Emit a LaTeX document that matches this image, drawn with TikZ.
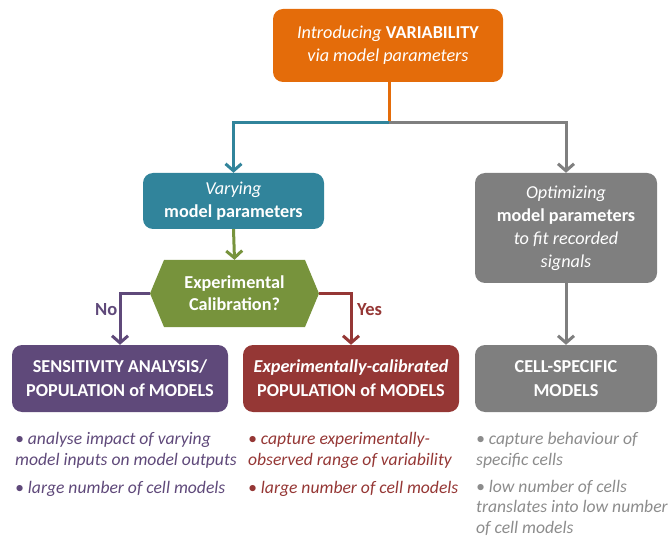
\documentclass[tikz,border=0pt]{standalone}
\usepackage{fontspec}
\setmainfont{Carlito}
\usetikzlibrary{arrows.meta}
\definecolor{cOrange}{HTML}{E46C0A}
\definecolor{cTeal}{HTML}{31849B}
\definecolor{cGreen}{HTML}{77933C}
\definecolor{cPurple}{HTML}{5F497A}
\definecolor{cRed}{HTML}{953735}
\definecolor{cGrey}{HTML}{7F7F7F}
\definecolor{cGreyText}{HTML}{8C8C8C}
\tikzset{
  box/.style={rounded corners=10pt, text=white, align=center, inner sep=0pt,
    font=\fontsize{18.2}{23}\selectfont},
  conn/.style={line width=3pt, -{Straight Barb[length=7pt,width=16pt,line width=3pt]}},
  plain/.style={line width=3pt},
  bullets/.style={anchor=base west, align=left, inner sep=0pt,
    font=\fontsize{17.6}{20.5}\selectfont\itshape},
  lbl/.style={font=\fontsize{18.5}{20}\selectfont\bfseries, inner sep=0pt, anchor=base west},
}
\begin{document}
\begin{tikzpicture}[x=1pt,y=-1pt]
\useasboundingbox (0,0) rectangle (669,545);
% boxes
\node[box, fill=cOrange, minimum width=230pt, minimum height=73pt] (top) at (388,45.5)
  {\textit{Introducing} \textbf{VARIABILITY}\\\textit{via model parameters}};
\node[box, fill=cTeal, minimum width=181pt, minimum height=56pt] (vary) at (233.5,201)
  {\textit{Varying}\\\textbf{model parameters}};
\node[box, fill=cGrey, minimum width=182pt, minimum height=110pt] (opt) at (566,228)
  {\textit{Optimizing}\\\textbf{model parameters}\\\textit{to fit recorded}\\\textit{signals}};
\fill[cGreen] (150,293.5) -- (164,260) -- (305,260) -- (319,293.5) -- (305,327) -- (164,327) -- cycle;
\node[text=white, align=center, inner sep=0pt, minimum width=169pt, minimum height=67pt,
  font=\fontsize{18.2}{22}\selectfont\bfseries] (calib) at (234.5,293.5) {Experimental\\Calibration?};
\node[box, fill=cPurple, minimum width=216pt, minimum height=67pt, font=\fontsize{18.2}{24}\selectfont] (sens) at (120,378.5)
  {\textbf{SENSITIVITY ANALYSIS/}\\\textbf{POPULATION of MODELS}};
\node[box, fill=cRed, minimum width=216pt, minimum height=67pt, font=\fontsize{18.2}{24}\selectfont] (expc) at (351,378.5)
  {\textbf{\textit{Experimentally-calibrated}}\\\textbf{POPULATION of MODELS}};
\node[box, fill=cGrey, minimum width=182pt, minimum height=67pt, font=\fontsize{18.2}{24}\selectfont] (cell) at (566,378.5)
  {\textbf{CELL-SPECIFIC}\\\textbf{MODELS}};
% connectors
\coordinate (split) at (389,123);
\draw[plain, cOrange] (top.south -| split) -- (split);
\draw[conn, cTeal] (split) -| (vary.north);
\draw[conn, cGrey] (split) -| (opt.north);
\draw[conn, cGreen] (vary.south) -- (calib.north);
\draw[conn, cPurple] (calib.west) -| (sens.north);
\draw[conn, cRed] (calib.east) -| (expc.north);
\draw[conn, cGrey] (opt.south) -- (cell.north);
\node[lbl, text=cPurple] (no) at (95,316) {No};
\node[lbl, text=cRed] (yes) at (357,316) {Yes};
% bullets (base anchor = baseline of last line)
\node[bullets, text=cPurple] (p1) at (15,465) {• analyse impact of varying\\model inputs on model outputs};
\node[bullets, text=cPurple] (p2) at (15,493) {• large number of cell models};
\node[bullets, text=cRed] (r1) at (248,465) {• capture experimentally-\\observed range of variability};
\node[bullets, text=cRed] (r2) at (248,493) {• large number of cell models};
\node[bullets, text=cGreyText] (g1) at (476,465) {• capture behaviour of\\specific cells};
\node[bullets, text=cGreyText] (g2) at (476,533) {• low number of cells\\translates into low number\\of cell models};
\end{tikzpicture}
\end{document}
